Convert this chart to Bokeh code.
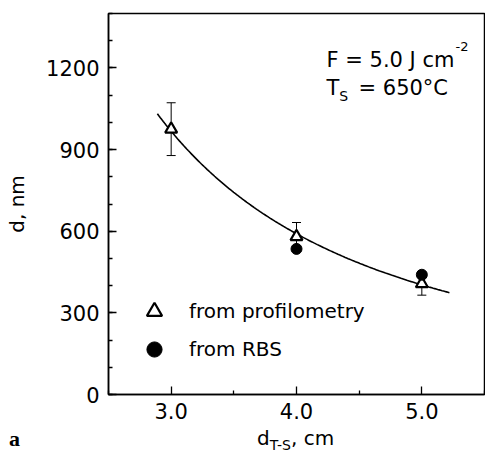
import numpy as np
from bokeh.plotting import figure
from bokeh.layouts import column
from bokeh.models import (ColumnDataSource, Whisker, TeeHead, Label, Legend, LegendItem,
                          FixedTicker, Range1d, Div)
from bokeh.embed import file_html
from bokeh.resources import INLINE

# ---- data ----
dist_prof = [3.0, 4.0, 5.0]          # d_T-S, cm
d_prof = [975, 580, 407]             # thickness from profilometry, nm
d_prof_err = [97, 52, 42]            # error bars, nm
dist_rbs = [4.0, 5.0]
d_rbs = [535, 440]                   # thickness from RBS, nm
fit_x_start, fit_x_end = 2.89, 5.22  # extent of the fitted curve
x_ticks = [3.0, 4.0, 5.0]
y_ticks = [0, 300, 600, 900, 1200]
X0, X1 = 2.5, 5.5
Y0, Y1 = 0, 1400

FONT = "DejaVu Sans"

# geometry (pixels inside the figure)
W, H1, H2 = 485, 428, 23
FL, FR, FT, FB = 108, 484, 13, 394

p = figure(width=W, height=H1, output_backend="svg", toolbar_location=None,
           x_range=Range1d(X0, X1), y_range=Range1d(Y0, Y1),
           min_border_left=FL, min_border_right=W - FR, min_border_top=FT,
           min_border_bottom=H1 - FB)
p.background_fill_color = "white"
p.border_fill_color = "white"
p.grid.visible = False
p.outline_line_color = "black"
p.outline_line_width = 1.5

# power-law fit d = A * x^n through the profilometry points
coef = np.polyfit(np.log(dist_prof), np.log(d_prof), 1)
xf = np.linspace(fit_x_start, fit_x_end, 200)
yf = np.exp(np.polyval(coef, np.log(xf)))
p.line(xf, yf, line_color="black", line_width=1.6)

lo = [v - e for v, e in zip(d_prof, d_prof_err)]
hi = [v + e for v, e in zip(d_prof, d_prof_err)]
src = ColumnDataSource(dict(x=dist_prof, y=d_prof, lower=lo, upper=hi))
w = Whisker(base="x", lower="lower", upper="upper", source=src,
            line_color="black", line_width=1,
            upper_head=TeeHead(size=9, line_color="black", line_width=1),
            lower_head=TeeHead(size=9, line_color="black", line_width=1))
p.add_layout(w)

r_prof = p.scatter("x", "y", source=src, marker="triangle", size=12,
                   fill_color="white", line_color="black", line_width=2.2)
r_rbs = p.scatter(dist_rbs, d_rbs, marker="circle", size=11,
                  fill_color="black", line_color="black")

legend = Legend(items=[LegendItem(label="from profilometry", renderers=[r_prof]),
                       LegendItem(label="from RBS", renderers=[r_rbs])],
                location=(27, 26), glyph_width=38, glyph_height=38, spacing=-10,
                label_standoff=16, padding=0, margin=0,
                border_line_color=None, background_fill_alpha=0,
                label_text_font=FONT, label_text_font_size="20px",
                label_text_color="black")
p.add_layout(legend)

# axes
for ax in (p.xaxis[0], p.yaxis[0]):
    ax.axis_line_color = "black"
    ax.axis_line_width = 1.5
    ax.major_tick_in = 8
    ax.major_tick_out = 0
    ax.minor_tick_in = 4
    ax.minor_tick_out = 0
    ax.major_tick_line_width = 1.3
    ax.minor_tick_line_width = 1.3
    ax.major_label_text_font = FONT
    ax.major_label_text_font_size = "21px"
    ax.major_label_text_color = "black"

p.xaxis.ticker = FixedTicker(ticks=x_ticks, minor_ticks=[2.5, 3.5, 4.5, 5.5])
p.xaxis.major_label_overrides = {t: f"{t:.1f}" for t in x_ticks}
p.xaxis.major_label_standoff = 8

p.yaxis.ticker = FixedTicker(ticks=y_ticks, minor_ticks=list(range(0, 1401, 100)))
p.yaxis.major_label_standoff = 9
p.yaxis.axis_label = "d, nm"
p.yaxis.axis_label_text_font = FONT
p.yaxis.axis_label_text_font_size = "20px"
p.yaxis.axis_label_text_font_style = "normal"
p.yaxis.axis_label_text_color = "black"
p.yaxis.axis_label_standoff = 14


def px_to_x(px):
    return X0 + (px - FL) * (X1 - X0) / (FR - FL)


def py_to_y(py):
    return Y0 + (FB - py) * (Y1 - Y0) / (FB - FT)


def lab(text, px, py, size, style="normal", font=FONT):
    p.add_layout(Label(x=px_to_x(px), y=py_to_y(py), text=text, text_font=font,
                       text_font_size=size, text_font_style=style,
                       text_color="black", text_baseline="alphabetic", text_align="left"))


# annotation (inside the frame)
fs = 21
ax0 = 326
lab("F = 5.0 J cm", ax0, 59, f"{fs}px")
lab("-2", ax0 + 6.094 * fs + 1, 46, "13px")
lab("T", ax0, 87, f"{fs}px")
lab("S", ax0 + 0.611 * fs, 95, "14px")
lab("= 650\u00b0C", ax0 + 32, 87, f"{fs}px")

# x-axis label with subscript and panel letter, drawn below the plot as text
xlab_left = (FL + FR) // 2 - 39
below_html = (
    f'<div style="position:relative;width:{W}px;height:{H2}px;color:black;">'
    f'<div style="position:absolute;left:{xlab_left}px;top:0px;font-family:\'DejaVu Sans\';'
    'font-size:20px;line-height:20px;white-space:nowrap;">d'
    '<span style="font-size:14px;position:relative;top:5px;">T-S</span>, cm</div>'
    '<div style="position:absolute;left:9px;top:0px;font-family:\'Liberation Serif\';'
    'font-weight:bold;font-size:22px;line-height:22px;">a</div>'
    '</div>'
)
below = Div(text=below_html, width=W, height=H2, margin=0)

layout = column(p, below, spacing=0)

open("out.html", "w").write(file_html(layout, INLINE))
